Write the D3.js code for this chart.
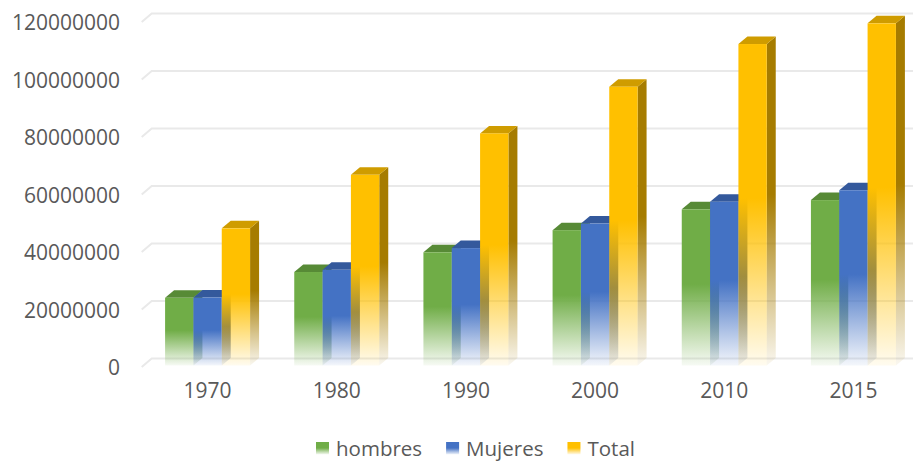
<!DOCTYPE html>
<html>
<head>
<meta charset="utf-8">
<script src="https://cdn.jsdelivr.net/npm/d3@7"></script>
<style>
  html, body { margin: 0; padding: 0; background: #ffffff; }
  svg { display: block; }
  text { font-family: "Open Sans", "Liberation Sans", sans-serif; fill: #595959; }
</style>
</head>
<body>
<svg id="chart" width="913" height="462"></svg>
<script>
// Población de México por sexo (censos y encuesta intercensal)
const categories = ["1970", "1980", "1990", "2000", "2010", "2015"];
const hombres = [24065614, 33039307, 39893969, 47592253, 54855231, 58056133];
const mujeres = [24159624, 33807526, 41355676, 49891159, 57481307, 61474620];
const total   = [48225238, 66846833, 81249645, 97483412, 112336538, 119530753];
const seriesNames = ["hombres", "Mujeres", "Total"];
const tickValues = [0, 20000000, 40000000, 60000000, 80000000, 100000000, 120000000];

const seriesValues = [hombres, mujeres, total];
const palette = [
  { front: "#70ad47", top: "#578a36", side: "#4a7a2c" },
  { front: "#4472c4", top: "#34599c", side: "#2d4f8c" },
  { front: "#ffc000", top: "#cf9c00", side: "#a67c00" }
];

const svg = d3.select("#chart");
const W = 913;

// depth of the 3D walls and of each column
const wallDx = 10, wallDy = -8.5;
const barDx = 9, barDy = -7.5;

const y = d3.scaleLinear().domain([0, 120000000]).range([367, 22]);
const x = d3.scaleBand().domain(categories).range([143, 918])
  .paddingInner(0.342).paddingOuter(0.171);
const xs = d3.scaleBand().domain(seriesNames).range([0, x.bandwidth()]);

// gradients: solid at the top, fading out towards the floor
const defs = svg.append("defs");
palette.forEach((p, i) => {
  ["front", "side"].forEach(face => {
    const g = defs.append("linearGradient")
      .attr("id", `g-${face}-${i}`)
      .attr("x1", 0).attr("y1", 0).attr("x2", 0).attr("y2", 1);
    g.append("stop").attr("offset", "0").attr("stop-color", p[face]).attr("stop-opacity", 1);
    g.append("stop").attr("offset", "0.48").attr("stop-color", p[face]).attr("stop-opacity", 1);
    g.append("stop").attr("offset", "0.78").attr("stop-color", p[face]).attr("stop-opacity", 0.45);
    g.append("stop").attr("offset", "1").attr("stop-color", p[face]).attr("stop-opacity", 0.06);
  });
});

// gridlines on the side wall and back wall
const grid = svg.append("g");
tickValues.forEach(v => {
  const yf = y(v);
  grid.append("path")
    .attr("d", `M${x.range()[0] - 1.3},${yf} L${x.range()[0] + wallDx - 1.3},${yf + wallDy} L${W},${yf + wallDy}`)
    .attr("fill", "none")
    .attr("stroke", "#e9e9e9")
    .attr("stroke-width", 2);
});

// y axis labels
const yAxis = d3.axisLeft(y).tickValues(tickValues).tickFormat(d3.format("d")).tickSize(0).tickPadding(0);
const yg = svg.append("g").attr("transform", "translate(120,1)").call(yAxis);
yg.select(".domain").remove();
yg.selectAll("text").attr("font-size", 21).attr("fill", "#595959")
  .style("font-family", '"Open Sans", "Liberation Sans", sans-serif');

// x axis labels
const xAxis = d3.axisBottom(x).tickSize(0).tickPadding(0);
const xg = svg.append("g").attr("transform", "translate(0,383)").call(xAxis);
xg.select(".domain").remove();
xg.selectAll("text").attr("font-size", 21).attr("fill", "#595959")
  .style("font-family", '"Open Sans", "Liberation Sans", sans-serif');

// 3D columns
const bars = svg.append("g");
categories.forEach((c, ci) => {
  seriesNames.forEach((s, si) => {
    const v = seriesValues[si][ci];
    const x0 = x(c) + xs(s);
    const x1 = x0 + xs.bandwidth();
    const yt = y(v);
    const yb = y(0) - 1.5;
    const g = bars.append("g");
    // right side face
    g.append("path")
      .attr("d", `M${x1},${yt} L${x1 + barDx},${yt + barDy} L${x1 + barDx},${yb + barDy} L${x1},${yb} Z`)
      .attr("fill", `url(#g-side-${si})`);
    // top face
    g.append("path")
      .attr("d", `M${x0},${yt} L${x1},${yt} L${x1 + barDx},${yt + barDy} L${x0 + barDx},${yt + barDy} Z`)
      .attr("fill", palette[si].top);
    // front face
    g.append("rect")
      .attr("x", x0).attr("y", yt)
      .attr("width", x1 - x0).attr("height", yb - yt)
      .attr("fill", `url(#g-front-${si})`);
  });
});

// legend
const legend = svg.append("g").attr("transform", "translate(316,0)");
let lx = 0;
seriesNames.forEach((s, si) => {
  const item = legend.append("g").attr("transform", `translate(${lx},0)`);
  item.append("rect")
    .attr("x", 0).attr("y", 442).attr("width", 13).attr("height", 12.5)
    .attr("fill", `url(#g-front-${si})`);
  const t = item.append("text")
    .attr("x", 20).attr("y", 456)
    .attr("font-size", 20.5)
    .text(s);
  lx += 20 + t.node().getComputedTextLength() + 24;
});
</script>
</body>
</html>
